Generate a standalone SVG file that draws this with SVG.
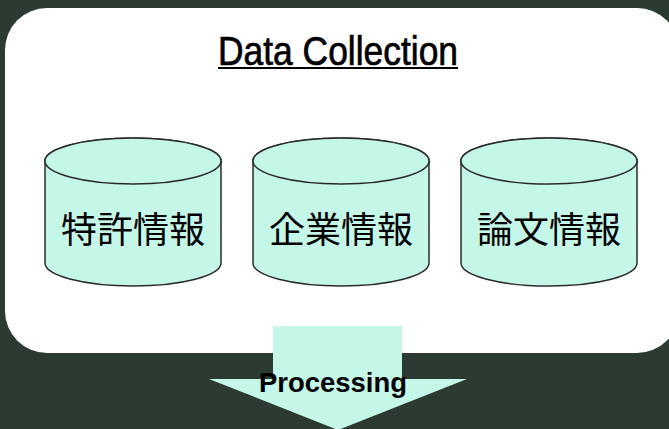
<svg xmlns="http://www.w3.org/2000/svg" width="669" height="429" viewBox="0 0 669 429">
<style>
.cyl{fill:#c5f7e8;stroke:#2b2b2b;stroke-width:1.5}
.cjk{font-family:"Noto Sans CJK JP","Noto Sans CJK SC",sans-serif;font-size:36px;fill:#000;text-anchor:middle}
.lat{font-family:"Liberation Sans","DejaVu Sans",sans-serif;fill:#000}
</style>
<rect x="0" y="0" width="669" height="429" fill="#2b3b31"/>
<g id="panel">
<rect x="5" y="8" width="674" height="345" rx="42" ry="42" fill="#ffffff"/>
<text class="lat" x="218" y="65" font-size="40" stroke="#000" stroke-width="0.7" textLength="240" lengthAdjust="spacingAndGlyphs">Data Collection</text>
<rect x="218" y="67" width="240" height="2" fill="#000"/>
</g>
<g id="node-patent">
<path class="cyl" d="M45,161 A88,23 0 0 1 221,161 L221,263 A88,23 0 0 1 45,263 Z"/>
<ellipse class="cyl" cx="133" cy="161" rx="88" ry="23"/>
<text class="cjk" x="133" y="243">特許情報</text>
</g>
<g id="node-company">
<path class="cyl" d="M253,161 A88,23 0 0 1 429,161 L429,263 A88,23 0 0 1 253,263 Z"/>
<ellipse class="cyl" cx="341" cy="161" rx="88" ry="23"/>
<text class="cjk" x="341" y="243">企業情報</text>
</g>
<g id="node-paper">
<path class="cyl" d="M461,161 A88,23 0 0 1 637,161 L637,263 A88,23 0 0 1 461,263 Z"/>
<ellipse class="cyl" cx="549" cy="161" rx="88" ry="23"/>
<text class="cjk" x="549" y="243">論文情報</text>
</g>
<g id="connectors">
<path d="M273,326 L402,326 L402,379 L467,379 L338,430 L209,379 L273,379 Z" fill="#c5f7e8"/>
<text class="lat" x="259" y="392" font-size="28" font-weight="bold" textLength="148" lengthAdjust="spacingAndGlyphs">Processing</text>
</g>
</svg>
